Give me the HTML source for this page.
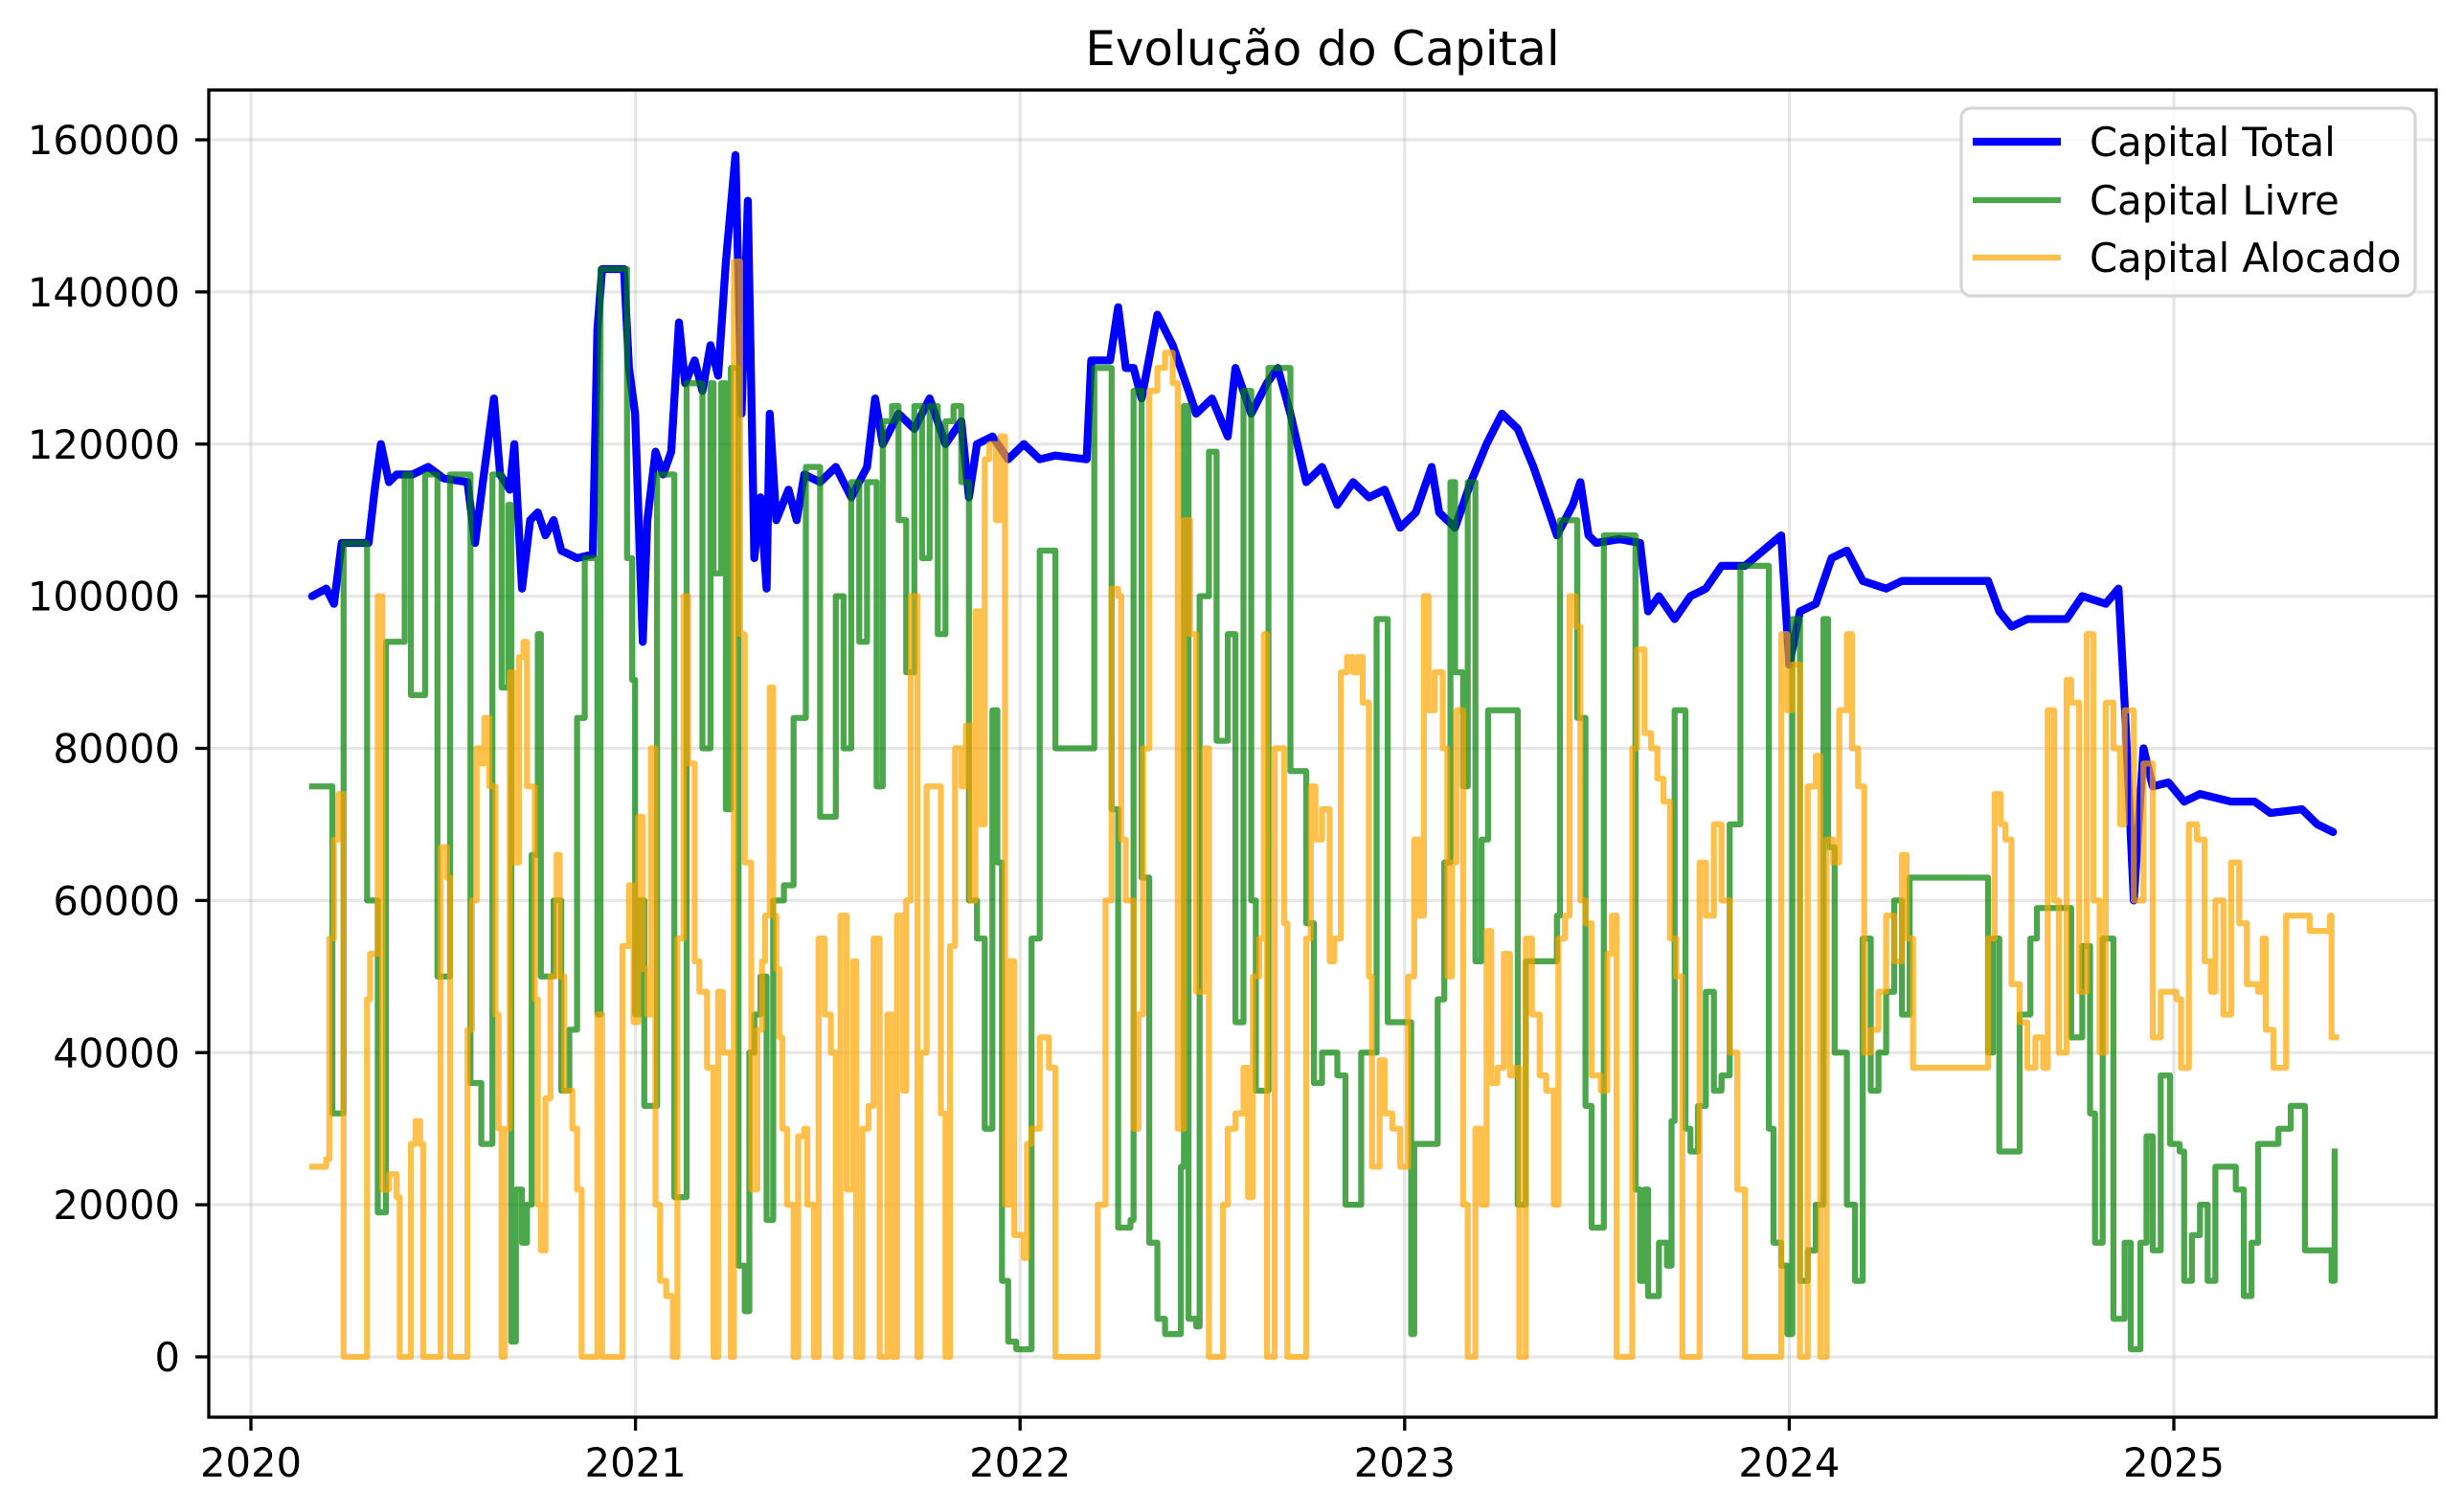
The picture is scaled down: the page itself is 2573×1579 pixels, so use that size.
<!DOCTYPE html>
<html><head><meta charset="utf-8"><style>
html,body{margin:0;padding:0;background:#fff;}
svg{display:block;font-family:"DejaVu Sans","Liberation Sans",sans-serif;}
</style></head><body>
<svg id="chart" width="2573" height="1579" viewBox="0 0 2573 1579" xmlns="http://www.w3.org/2000/svg">
<rect width="2573" height="1579" fill="#fff"/>
<text x="1381" y="68" font-size="50" text-anchor="middle" fill="#000">Evolução do Capital</text>
<g id="grid"></g>
<g id="ticks"></g>
<g id="series"></g>
<rect x="218" y="94" width="2326" height="1386" fill="none" stroke="#000" stroke-width="3.3"/>
<g>
<rect x="2048" y="113" width="474" height="196" rx="10" fill="#fff" fill-opacity="0.8" stroke="#d6d6d6" stroke-width="3.3"/>
<line x1="2060" y1="148" x2="2152" y2="148" stroke="#0000ff" stroke-width="8.3"/>
<text x="2182" y="163" font-size="41.7">Capital Total</text>
<line x1="2060" y1="209" x2="2152" y2="209" stroke="#008000" stroke-opacity="0.7" stroke-width="6.25"/>
<text x="2182" y="224" font-size="41.7">Capital Livre</text>
<line x1="2060" y1="269" x2="2152" y2="269" stroke="#ffa500" stroke-opacity="0.7" stroke-width="6.25"/>
<text x="2182" y="284" font-size="41.7">Capital Alocado</text>
</g>
</svg>
<script>
// time in years since 2020-01-01; values in thousands
const yTicks = [0,20000,40000,60000,80000,100000,120000,140000,160000];
const xTickYears = [2020,2021,2022,2023,2024,2025];
const totalT = [0.159,0.196,0.216,0.236,0.306,0.322,0.338,0.359,0.379,0.420,0.461,0.501,0.563,0.583,0.603,0.632,0.648,0.673,0.685,0.705,0.726,0.746,0.766,0.787,0.807,0.848,0.889,0.901,0.913,0.970,0.983,0.999,1.019,1.031,1.052,1.072,1.093,1.113,1.129,1.154,1.174,1.195,1.215,1.235,1.260,1.276,1.292,1.309,1.325,1.341,1.349,1.366,1.398,1.419,1.439,1.480,1.521,1.561,1.602,1.623,1.643,1.684,1.725,1.765,1.806,1.847,1.867,1.888,1.928,1.969,2.010,2.051,2.092,2.173,2.185,2.234,2.255,2.275,2.295,2.316,2.357,2.397,2.438,2.458,2.499,2.540,2.560,2.601,2.642,2.670,2.703,2.744,2.785,2.825,2.866,2.907,2.948,2.988,3.029,3.070,3.090,3.131,3.172,3.213,3.253,3.294,3.335,3.376,3.396,3.437,3.457,3.478,3.498,3.559,3.612,3.633,3.661,3.702,3.743,3.783,3.824,3.885,3.979,4.000,4.028,4.069,4.110,4.150,4.191,4.252,4.293,4.517,4.546,4.578,4.619,4.721,4.762,4.823,4.856,4.872,4.896,4.921,4.945,4.986,5.027,5.068,5.149,5.210,5.251,5.333,5.373,5.414];
const totalV = [100,101,99,107,107,114,120,115,116,116,117,115.5,115,107,115,126,116,114,120,101,110,111,108,110,106,105,105.5,135,143,143,130,124,94,110,119,116,119,136,128,131,127,133,129,144,158,124,152,105,113,101,124,110,114,110,116,115,117,113,117,126,120,124,122,126,120,123,113,120,121,118,120,118,118.5,118,131,131,138,130,130,126,137,133,127,124,126,121,130,124,128,130,124,115,117,112,115,113,114,109,111,117,111,109,115,120,124,122,117,111,108,112,115,108,107,107.5,107,98,100,97,100,101,104,104,108,91,98,99,105,106,102,101,102,102,98,96,97,97,100,99,101,86,60,80,75,75.5,73,74,73,73,71.5,72,70,69];
const livreT = [0.159,0.204,0.212,0.232,0.241,0.298,0.302,0.326,0.330,0.347,0.351,0.395,0.400,0.412,0.416,0.448,0.453,0.481,0.485,0.514,0.518,0.567,0.571,0.595,0.599,0.624,0.628,0.648,0.652,0.665,0.669,0.677,0.689,0.705,0.718,0.730,0.746,0.754,0.779,0.787,0.807,0.828,0.848,0.868,0.885,0.901,0.909,0.970,0.978,0.991,0.999,1.011,1.023,1.048,1.056,1.089,1.101,1.125,1.133,1.154,1.174,1.195,1.203,1.223,1.235,1.248,1.268,1.284,1.296,1.309,1.325,1.341,1.358,1.386,1.411,1.431,1.443,1.464,1.480,1.504,1.521,1.541,1.561,1.582,1.602,1.627,1.643,1.667,1.684,1.704,1.725,1.745,1.765,1.786,1.806,1.827,1.847,1.867,1.888,1.908,1.928,1.941,1.953,1.969,1.990,2.030,2.051,2.075,2.092,2.189,2.193,2.234,2.238,2.255,2.287,2.295,2.316,2.336,2.357,2.377,2.397,2.418,2.426,2.438,2.458,2.467,2.491,2.511,2.532,2.540,2.560,2.581,2.601,2.613,2.630,2.646,2.683,2.703,2.736,2.744,2.764,2.785,2.825,2.846,2.866,2.887,2.915,2.927,2.948,2.956,3.009,3.017,3.025,3.078,3.086,3.103,3.119,3.131,3.152,3.164,3.184,3.200,3.217,3.282,3.294,3.315,3.376,3.396,3.404,3.429,3.449,3.470,3.486,3.518,3.559,3.600,3.612,3.624,3.633,3.661,3.682,3.694,3.702,3.730,3.743,3.763,3.783,3.804,3.824,3.845,3.873,3.906,3.947,3.959,3.979,3.995,4.008,4.028,4.048,4.069,4.089,4.101,4.118,4.150,4.171,4.191,4.212,4.232,4.252,4.273,4.293,4.313,4.505,4.517,4.530,4.546,4.591,4.599,4.627,4.644,4.701,4.733,4.762,4.782,4.795,4.815,4.843,4.872,4.888,4.913,4.929,4.945,4.966,4.990,5.015,5.027,5.047,5.068,5.088,5.108,5.141,5.161,5.182,5.202,5.219,5.251,5.272,5.304,5.333,5.341,5.406,5.410,5.418];
const livreV = [75,75,32,32,107,107,60,60,19,19,94,94,116,116,87,87,116,116,50,50,116,116,36,36,28,28,116,116,88,88,112,2,22,15,20,66,95,50,50,60,35,43,84,105,105,45,143,143,105,89,45,60,33,33,116,116,21,21,128,128,80,128,103,128,72,130,12,6,40,45,50,18,60,62,84,84,117,117,71,71,100,80,115,94,115,75,123,125,110,90,125,105,125,95,123,125,115,60,55,30,85,65,10,2,1,55,106,106,80,80,130,130,72,17,18,127,63,15,5,3,3,25,125,5,4,100,119,81,81,95,44,127,60,35,35,130,130,77,77,57,36,40,37,20,20,40,40,97,97,44,44,3,28,28,47,65,115,90,75,115,52,68,85,85,20,52,52,58,110,110,84,33,17,108,108,22,10,22,8,15,12,31,85,30,27,33,48,35,37,70,104,104,30,15,12,3,97,10,14,20,97,67,40,20,10,55,35,40,48,60,45,63,63,40,55,27,27,45,55,59,59,42,54,32,15,55,5,15,1,15,29,14,37,28,27,10,16,20,10,25,25,22,8,15,28,28,30,33,33,14,14,10,27];
const alocT = [0.159,0.196,0.204,0.216,0.228,0.241,0.294,0.302,0.310,0.330,0.342,0.359,0.379,0.387,0.408,0.416,0.428,0.440,0.448,0.485,0.493,0.510,0.518,0.554,0.563,0.575,0.587,0.599,0.607,0.620,0.636,0.644,0.652,0.660,0.673,0.685,0.697,0.709,0.718,0.738,0.746,0.754,0.766,0.779,0.795,0.803,0.815,0.836,0.848,0.860,0.889,0.901,0.913,0.958,0.966,0.983,0.995,1.007,1.019,1.031,1.040,1.052,1.064,1.080,1.097,1.109,1.125,1.137,1.154,1.166,1.186,1.203,1.215,1.227,1.248,1.256,1.272,1.284,1.301,1.317,1.329,1.337,1.349,1.358,1.366,1.374,1.382,1.394,1.411,1.423,1.439,1.447,1.464,1.476,1.492,1.508,1.521,1.533,1.549,1.566,1.574,1.590,1.606,1.619,1.635,1.655,1.667,1.680,1.696,1.704,1.716,1.733,1.741,1.757,1.773,1.794,1.806,1.818,1.831,1.847,1.859,1.871,1.884,1.896,1.908,1.920,1.937,1.949,1.961,1.973,1.985,2.010,2.018,2.030,2.051,2.075,2.092,2.185,2.202,2.222,2.238,2.255,2.263,2.275,2.295,2.308,2.320,2.336,2.357,2.377,2.397,2.410,2.426,2.442,2.458,2.479,2.491,2.515,2.528,2.540,2.560,2.581,2.593,2.605,2.622,2.634,2.642,2.662,2.687,2.695,2.723,2.744,2.756,2.768,2.785,2.805,2.817,2.834,2.850,2.866,2.878,2.891,2.907,2.915,2.935,2.948,2.968,2.988,3.009,3.025,3.037,3.050,3.062,3.078,3.099,3.111,3.123,3.135,3.152,3.164,3.184,3.200,3.213,3.225,3.241,3.258,3.274,3.286,3.298,3.315,3.331,3.351,3.368,3.388,3.400,3.417,3.429,3.445,3.457,3.470,3.486,3.510,3.527,3.539,3.551,3.580,3.592,3.604,3.624,3.641,3.657,3.673,3.690,3.706,3.722,3.755,3.767,3.783,3.804,3.824,3.845,3.865,3.885,3.967,3.979,3.995,4.008,4.028,4.048,4.069,4.081,4.097,4.114,4.130,4.150,4.163,4.179,4.195,4.212,4.232,4.252,4.273,4.293,4.305,4.322,4.505,4.517,4.534,4.550,4.562,4.578,4.599,4.619,4.640,4.660,4.672,4.689,4.701,4.721,4.733,4.754,4.774,4.791,4.807,4.823,4.843,4.860,4.872,4.896,4.921,4.945,4.966,5.007,5.019,5.039,5.060,5.080,5.096,5.108,5.129,5.149,5.170,5.190,5.219,5.231,5.239,5.259,5.280,5.292,5.353,5.406,5.410,5.422];
const alocV = [25,26,55,68,74,0,0,47,53,100,22,24,21,0,0,28,31,28,0,0,67,63,0,0,43,60,80,78,84,75,45,30,0,30,90,65,92,94,75,47,20,14,34,50,66,50,35,30,22,0,0,45,0,0,54,62,44,71,51,45,80,20,10,8,0,55,100,78,52,48,38,0,48,40,0,144,95,65,22,43,52,58,88,58,51,42,30,20,0,29,30,20,0,55,45,40,0,58,22,52,0,30,33,55,0,45,0,58,35,60,100,0,40,75,75,32,0,54,80,75,83,60,98,70,118,120,110,121,20,52,16,13,28,30,42,38,0,0,20,60,101,100,68,60,30,45,80,127,130,132,128,30,110,95,48,80,0,0,20,30,32,38,21,50,55,95,0,80,57,0,0,55,75,68,72,52,55,90,92,90,92,86,50,25,39,32,30,25,50,68,58,100,85,90,80,50,65,85,20,0,30,20,56,36,38,53,37,38,0,55,45,37,35,20,55,58,100,96,60,57,37,35,53,58,0,0,80,93,82,80,76,73,55,50,0,0,65,58,70,60,40,22,0,0,95,85,91,0,75,79,0,68,65,85,95,80,75,40,43,48,58,52,66,55,38,38,55,74,70,68,49,44,38,42,38,85,60,40,89,86,48,95,60,40,86,80,70,85,60,78,42,48,47,38,70,68,52,48,60,45,65,57,49,48,55,43,38,38,58,56,58,42,42];

const NS = 'http://www.w3.org/2000/svg';
function xScale(t){ return 262 + t*401.6; }
function xYear(yr){ return xScale(yr-2020); }
function yScale(v){ return 1417 - v*(1271/160000); }
function mk(tag, attrs, parent){ const e=document.createElementNS(NS,tag); for(const k in attrs) e.setAttribute(k,attrs[k]); parent.appendChild(e); return e; }
const grid=document.getElementById('grid'), ticks=document.getElementById('ticks'), series=document.getElementById('series');
yTicks.forEach(v=>{
  const y=yScale(v);
  const g=mk('line',{x1:218,x2:2544,y1:y,y2:y,stroke:'#b0b0b0','stroke-opacity':0.3,'stroke-width':3.3},grid);
  
  
  const t=mk('line',{x1:204,x2:218,y1:y,y2:y,stroke:'#000','stroke-width':3.3},ticks);
  
  
  const l=mk('text',{x:188,y:y+15,'font-size':41.7,'text-anchor':'end'},ticks);
  l.textContent=String(v);
  
  
});
xTickYears.forEach(yr=>{
  const x=xYear(yr);
  const g=mk('line',{x1:x,x2:x,y1:94,y2:1480,stroke:'#b0b0b0','stroke-opacity':0.3,'stroke-width':3.3},grid);
  
  
  const t=mk('line',{x1:x,x2:x,y1:1480,y2:1494,stroke:'#000','stroke-width':3.3},ticks);
  
  
  const l=mk('text',{x:x,y:1542,'font-size':41.7,'text-anchor':'middle'},ticks);
  l.textContent=String(yr);
  
  
});
function pathD(ts,vs){ return ts.map((t,i)=>(i?'L':'M')+xScale(t).toFixed(1)+','+yScale(vs[i]*1000).toFixed(1)).join(''); }
function stepD(ts,vs){
  let d='M'+xScale(ts[0]).toFixed(1)+','+yScale(vs[0]*1000).toFixed(1);
  for(let i=1;i<ts.length;i++){
    d+='H'+xScale(ts[i]).toFixed(1)+'V'+yScale(vs[i]*1000).toFixed(1);
  }
  return d;
}
const pTotal=mk('path',{d:pathD(totalT,totalV),fill:'none',stroke:'#0000ff','stroke-width':8.3,'stroke-linejoin':'round','stroke-linecap':'round'},series);


const pLivre=mk('path',{d:stepD(livreT,livreV),fill:'none',stroke:'#008000','stroke-opacity':0.7,'stroke-width':6.25,'stroke-linejoin':'round','stroke-linecap':'square'},series);


const pAloc=mk('path',{d:stepD(alocT,alocV),fill:'none',stroke:'#ffa500','stroke-opacity':0.7,'stroke-width':6.25,'stroke-linejoin':'round','stroke-linecap':'square'},series);


</script>
</body></html>
